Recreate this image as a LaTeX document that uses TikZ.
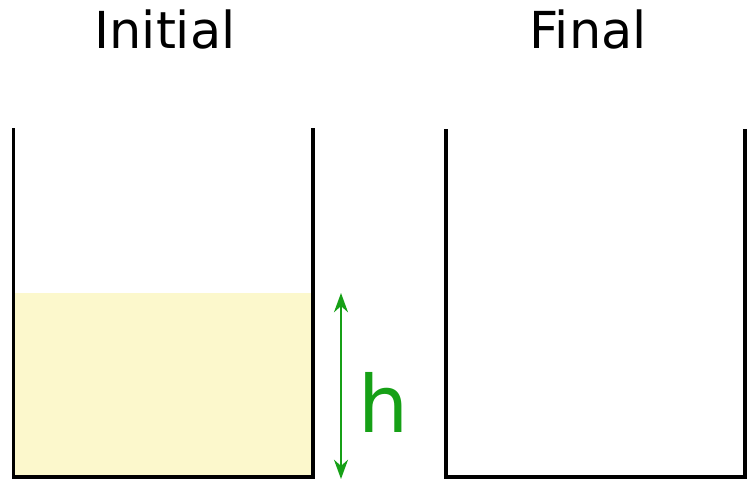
\documentclass[tikz,border=0pt]{standalone}
\usepackage{fontspec}
\setmainfont{DejaVu Sans}
\usetikzlibrary{arrows.meta}
\definecolor{liquid}{HTML}{FCF8CC}
\definecolor{hgreen}{HTML}{16A016}

\begin{document}
\begin{tikzpicture}[
		x=0.02cm, y=-0.02cm,
		>={Stealth[length=11pt,width=8pt]},
		beaker/.style={draw,line width=0.08cm,line join=miter},
		title/.style={font=\fontsize{29}{29}\selectfont,anchor=base}
	]
		\useasboundingbox (0,0) rectangle (752,480);

		% Liquid
		\fill[liquid] (15,293) rectangle (311,476);

		% Beakers
		\draw[beaker] (13.5,128) -- (13.5,477) -- (312.5,477) -- (312.5,128);
		\draw[beaker] (446,129) -- (446,477) -- (744.5,477) -- (744.5,129);

		% Titles
		\node[title] (initial) at (165,49) {Initial};
		\node[title] (final) at (588,49) {Final};

		% Height
		\coordinate (htop) at (341,293);
		\coordinate (hbot) at (341,479);
		\draw[hgreen, line width=1.1pt, <->] (htop) -- (hbot);
		\node[hgreen, font=\fontsize{45}{45}\selectfont, anchor=base] (h) at (383.5,432) {h};
\end{tikzpicture}
\end{document}
